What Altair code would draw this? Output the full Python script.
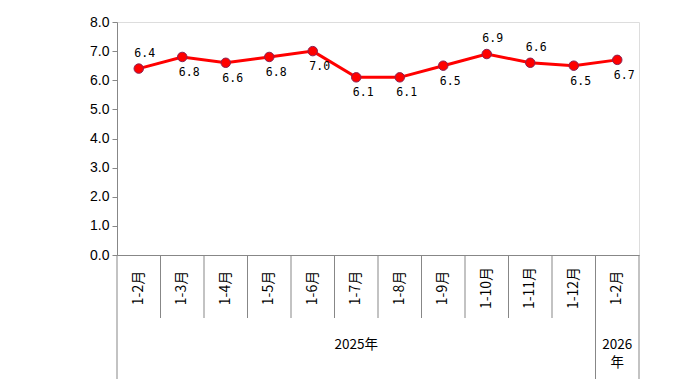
import altair as alt
import pandas as pd

months = ["1-2月", "1-3月", "1-4月", "1-5月", "1-6月", "1-7月",
          "1-8月", "1-9月", "1-10月", "1-11月", "1-12月", "1-2月"]
years = ["2025"] * 11 + ["2026"]
values = [6.4, 6.8, 6.6, 6.8, 7.0, 6.1, 6.1, 6.5, 6.9, 6.6, 6.5, 6.7]
label_side = ["above", "below", "below", "below", "below", "below",
              "below", "below", "above", "above", "below", "below"]
year_labels = {"2025": ["2025年"], "2026": ["2026", "年"]}

W, H = 522, 233
GRAY = "#878787"

df = pd.DataFrame({
    "pos": [i + 0.5 for i in range(len(months))],
    "month": months,
    "year": years,
    "value": values,
    "side": label_side,
})
df["label"] = df["value"].map(lambda v: f"{v:.1f}")

# separators between categories
seps = []
for k in range(len(months) + 1):
    long = k == 0 or k == len(months) or years[k] != years[k - 1]
    seps.append({"x": k, "long": long})
sep_df = pd.DataFrame(seps)

# year groups (one row per text line)
yg = []
start = 0
for k in range(1, len(years) + 1):
    if k == len(years) or years[k] != years[start]:
        for li, txt in enumerate(year_labels[years[start]]):
            yg.append({"x": (start + k) / 2, "label": txt, "line": li})
        start = k
yg_df = pd.DataFrame(yg)

xscale = alt.Scale(domain=[0, len(months)], nice=False, zero=False)
yscale = alt.Scale(domain=[0, 8], nice=False)
xq = alt.X("pos:Q", scale=xscale,
           axis=alt.Axis(labels=False, ticks=False, grid=False, title=None,
                         domainColor=GRAY))
yaxis = alt.Axis(tickCount=8, format=".1f", labelOverlap=False,
                 grid=False, title=None, domainColor=GRAY,
                 tickColor=GRAY, tickSize=5, labelColor="#000000",
                 labelFont="Liberation Sans", labelFontSize=14,
                 labelPadding=3)
yq = alt.Y("value:Q", scale=yscale, axis=yaxis)

base = alt.Chart(df)

line = base.mark_line(color="#FF0000", strokeWidth=3).encode(x=xq, y=yq)
points = base.mark_point(filled=True, size=90, fill="#FF0000", opacity=1,
                         stroke="#8B2252", strokeWidth=1).encode(x=xq, y=yq)

above = base.transform_filter(alt.datum.side == "above").mark_text(
    font="DejaVu Sans Mono", fontSize=11.5, dy=-15, dx=6, color="#000000"
).encode(x=xq, y=yq, text="label:N")
below = base.transform_filter(alt.datum.side == "below").mark_text(
    font="DejaVu Sans Mono", fontSize=11.5, dy=16, dx=7, color="#000000"
).encode(x=xq, y=yq, text="label:N")

month_text = base.mark_text(
    font="Noto Sans CJK SC", fontSize=14, angle=270, align="center",
    baseline="middle", color="#000000"
).encode(x=xq, y=alt.value(H + 33), text="month:N")

sep_short = alt.Chart(sep_df).transform_filter(~alt.datum.long).mark_rule(
    color=GRAY, strokeWidth=1
).encode(x=alt.X("x:Q", scale=xscale), y=alt.value(H), y2=alt.value(H + 63))
sep_long = alt.Chart(sep_df).transform_filter(alt.datum.long).mark_rule(
    color=GRAY, strokeWidth=1
).encode(x=alt.X("x:Q", scale=xscale), y=alt.value(H), y2=alt.value(H + 124))

year_line0 = alt.Chart(yg_df).transform_filter(alt.datum.line == 0).mark_text(
    font="Noto Sans CJK SC", fontSize=13.5, align="center", baseline="middle",
    color="#000000"
).encode(x=alt.X("x:Q", scale=xscale), y=alt.value(H + 90), text="label:N")
year_line1 = alt.Chart(yg_df).transform_filter(alt.datum.line == 1).mark_text(
    font="Noto Sans CJK SC", fontSize=13.5, align="center", baseline="middle",
    color="#000000"
).encode(x=alt.X("x:Q", scale=xscale), y=alt.value(H + 108), text="label:N")

chart = alt.layer(
    line, points, above, below, month_text, sep_short, sep_long,
    year_line0, year_line1
).properties(
    width=W, height=H,
    autosize=alt.AutoSizeParams(type="none"),
    padding={"left": 109, "top": 14, "right": 40, "bottom": 124},
).configure_view(stroke=None).configure(background="#FFFFFF")

chart.save("out.html", embed_options={"renderer": "svg", "actions": False})
